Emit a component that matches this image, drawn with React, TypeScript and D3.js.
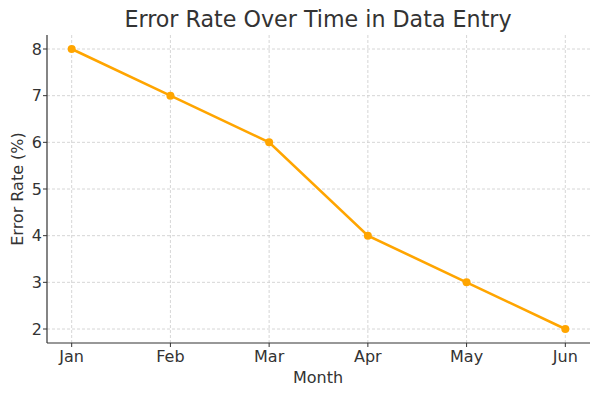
import React from "react";
import * as d3 from "d3";

const months = ["Jan", "Feb", "Mar", "Apr", "May", "Jun"];
const errorRates = [8, 7, 6, 4, 3, 2];
const yTicks = [2, 3, 4, 5, 6, 7, 8];

const W = 600, H = 397;
const L = 47, R = 590, T = 35, B = 343;
const FONT = "DejaVu Sans, sans-serif";
const TXT = "#333333";
const ORANGE = "#FFA500";

export default function App() {
  const x = d3.scaleLinear().domain([-0.25, 5.25]).range([L, R]);
  const y = d3.scaleLinear().domain([1.7, 8.3]).range([B, T]);
  const line = d3.line<number>().x((_, i) => x(i)).y((d) => y(d));
  return (
    <svg width={W} height={H} style={{ position: "absolute", left: 0, top: 0 }} fontFamily={FONT}>
      <rect width={W} height={H} fill="#fff" />
      <text x={(L + R) / 2 - 0.5} y={27} textAnchor="middle" fontSize={22.2} fill={TXT}>
        Error Rate Over Time in Data Entry
      </text>
      {months.map((m, i) => (
        <line key={"gx" + m} x1={x(i)} x2={x(i)} y1={T} y2={B} stroke="#cccccc" strokeWidth={0.8} strokeDasharray="3,2" />
      ))}
      {yTicks.map((t) => (
        <line key={"gy" + t} x1={L} x2={R} y1={y(t)} y2={y(t)} stroke="#cccccc" strokeWidth={0.8} strokeDasharray="3,2" />
      ))}
      <line x1={L} x2={L} y1={T} y2={B} stroke={TXT} strokeWidth={1.2} />
      <line x1={L} x2={R} y1={B} y2={B} stroke={TXT} strokeWidth={1.2} />
      {months.map((m, i) => (
        <g key={"xt" + m}>
          <line x1={x(i)} x2={x(i)} y1={B} y2={B + 4} stroke={TXT} strokeWidth={1} />
          <text x={x(i)} y={B + 19} textAnchor="middle" fontSize={16} fill={TXT}>{m}</text>
        </g>
      ))}
      {yTicks.map((t) => (
        <g key={"yt" + t}>
          <line x1={L - 4} x2={L} y1={y(t)} y2={y(t)} stroke={TXT} strokeWidth={1} />
          <text x={L - 5} y={y(t)} dy="0.36em" textAnchor="end" fontSize={16} fill={TXT}>{t}</text>
        </g>
      ))}
      <text x={(L + R) / 2 - 0.5} y={383} textAnchor="middle" fontSize={16} fill={TXT}>Month</text>
      <text transform={`translate(23,${(T + B) / 2}) rotate(-90)`} textAnchor="middle" fontSize={16} fill={TXT}>
        Error Rate (%)
      </text>
      <path d={line(errorRates) || ""} fill="none" stroke={ORANGE} strokeWidth={2.6} />
      {errorRates.map((v, i) => (
        <circle key={"p" + i} cx={x(i)} cy={y(v)} r={4} fill={ORANGE} />
      ))}
    </svg>
  );
}
